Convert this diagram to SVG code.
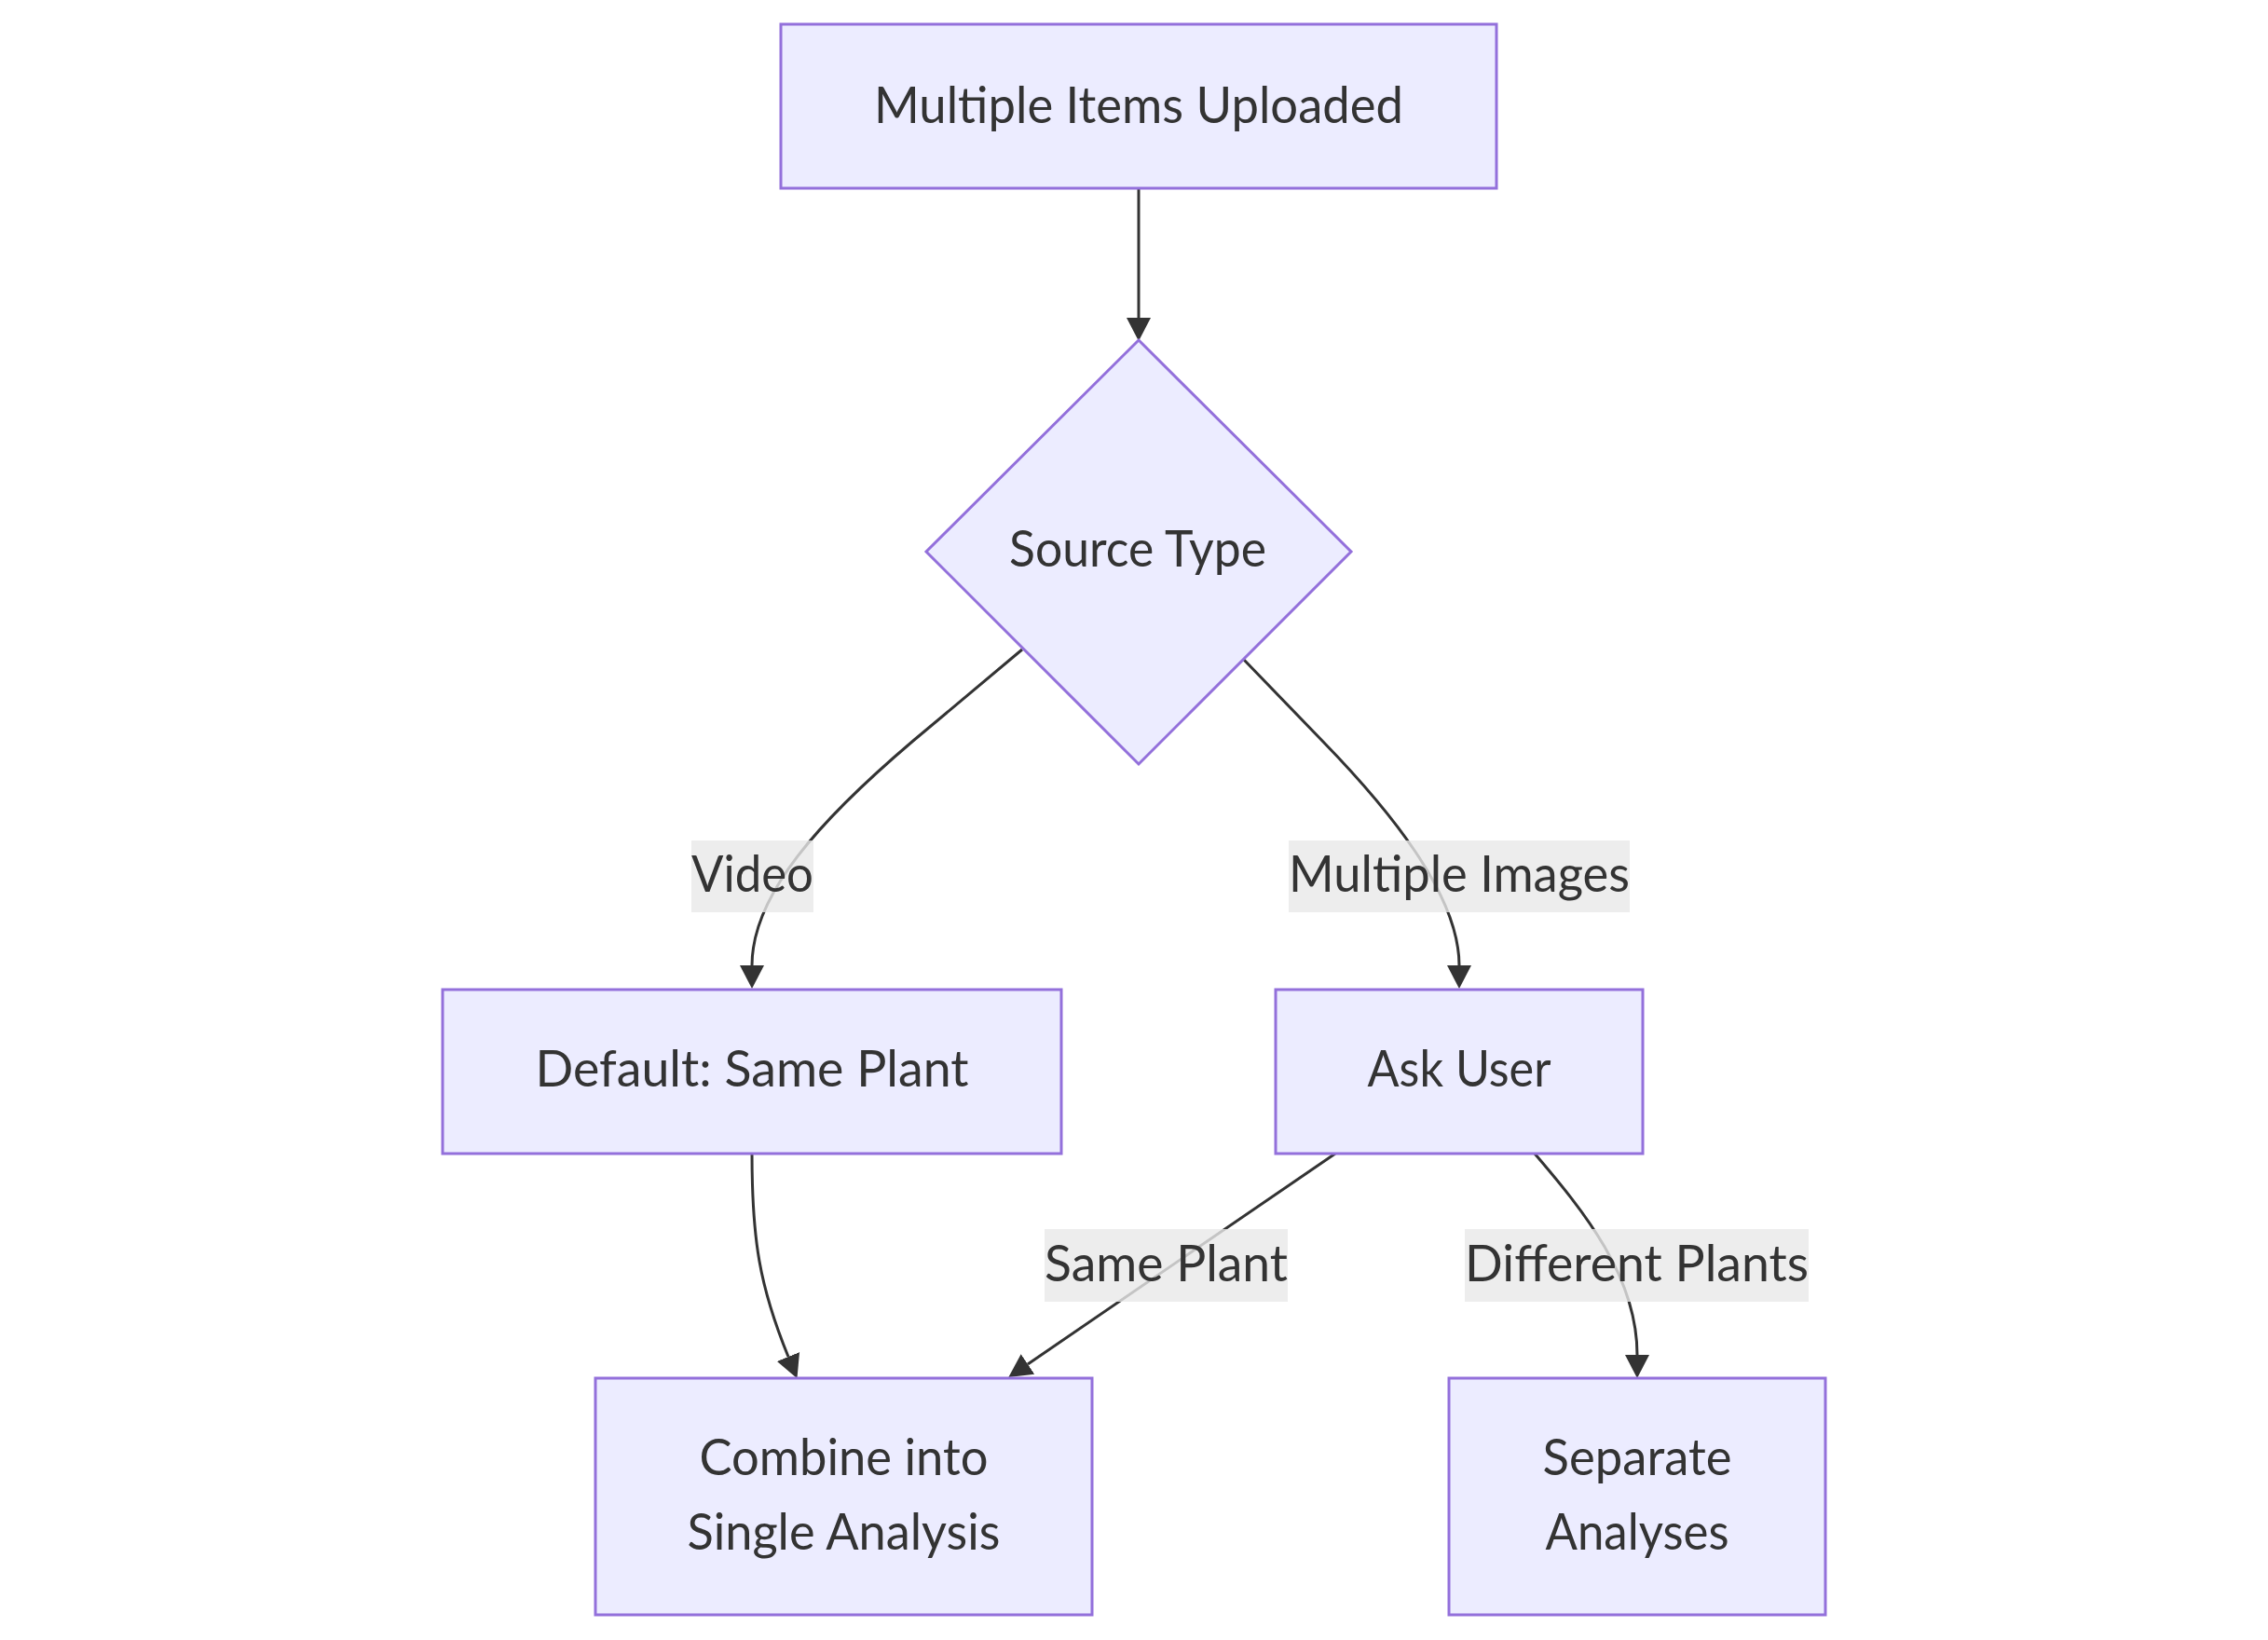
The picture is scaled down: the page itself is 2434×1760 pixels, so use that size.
<svg xmlns="http://www.w3.org/2000/svg" width="2434" height="1760" viewBox="0 0 2434 1760">
<style>
.node rect, .node polygon { fill: #ECECFF; stroke: #9370DB; stroke-width: 3; }
.t { font-family: "Lato", "Liberation Sans", "DejaVu Sans", sans-serif; font-size: 54px; fill: #333333; text-anchor: middle; }
.edge { fill: none; stroke: #333333; stroke-width: 3; }
.lbl rect { fill: rgba(232,232,232,0.8); }
</style>
<defs>
<marker id="arrow" markerUnits="userSpaceOnUse" markerWidth="26" markerHeight="28" refX="0" refY="13" orient="auto" viewBox="0 0 26 26">
<path d="M0,0 L25,13 L0,26 z" fill="#333333"/>
</marker>
</defs>
<rect width="2434" height="1760" fill="#ffffff"/>
<g id="connectors">
<path class="edge" d="M1222,202 L1222,341" marker-end="url(#arrow)"/>
<path class="edge" d="M1097,697 L980,795 C880,880 807,960 807,1036" marker-end="url(#arrow)"/>
<path class="edge" d="M1335,708 L1420,796 C1490,868 1566,960 1566,1036" marker-end="url(#arrow)"/>
<path class="edge" d="M807,1238 C807,1330 815,1380 846,1456" marker-end="url(#arrow)"/>
<path class="edge" d="M1433,1238 C1380,1274 1150,1432 1103,1464" marker-end="url(#arrow)"/>
<path class="edge" d="M1647,1238 C1700,1300 1757,1370 1757,1454" marker-end="url(#arrow)"/>
</g>
<g id="edge-labels">
<g class="lbl" id="label-video"><rect x="742" y="902" width="131" height="77"/><text class="t" x="807.5" y="957" textLength="131" lengthAdjust="spacingAndGlyphs">Video</text></g>
<g class="lbl" id="label-multiple-images"><rect x="1383" y="902" width="366" height="77"/><text class="t" x="1566" y="957" textLength="366" lengthAdjust="spacingAndGlyphs">Multiple Images</text></g>
<g class="lbl" id="label-same-plant"><rect x="1121" y="1319" width="261" height="78"/><text class="t" x="1251.5" y="1375" textLength="261" lengthAdjust="spacingAndGlyphs">Same Plant</text></g>
<g class="lbl" id="label-different-plants"><rect x="1572" y="1319" width="369" height="78"/><text class="t" x="1756.5" y="1375" textLength="369" lengthAdjust="spacingAndGlyphs">Different Plants</text></g>
</g>
<g id="node-uploaded" class="node">
<rect x="838" y="26" width="768" height="176"/>
<text class="t" x="1222" y="132" textLength="568" lengthAdjust="spacingAndGlyphs">Multiple Items Uploaded</text>
</g>
<g id="node-source-type" class="node">
<polygon points="1222,365 1450,592 1222,820 994,592"/>
<text class="t" x="1221" y="608" textLength="276" lengthAdjust="spacingAndGlyphs">Source Type</text>
</g>
<g id="node-default" class="node">
<rect x="475" y="1062" width="664" height="176"/>
<text class="t" x="807" y="1166" textLength="465" lengthAdjust="spacingAndGlyphs">Default: Same Plant</text>
</g>
<g id="node-ask-user" class="node">
<rect x="1369" y="1062" width="394" height="176"/>
<text class="t" x="1566" y="1166" textLength="197" lengthAdjust="spacingAndGlyphs">Ask User</text>
</g>
<g id="node-combine" class="node">
<rect x="639" y="1479" width="533" height="254"/>
<text class="t" x="905.5" y="1583" textLength="310" lengthAdjust="spacingAndGlyphs">Combine into</text>
<text class="t" x="905.5" y="1663" textLength="336" lengthAdjust="spacingAndGlyphs">Single Analysis</text>
</g>
<g id="node-separate" class="node">
<rect x="1555" y="1479" width="404" height="254"/>
<text class="t" x="1757" y="1583" textLength="203" lengthAdjust="spacingAndGlyphs">Separate</text>
<text class="t" x="1757" y="1663" textLength="197" lengthAdjust="spacingAndGlyphs">Analyses</text>
</g>
</svg>
